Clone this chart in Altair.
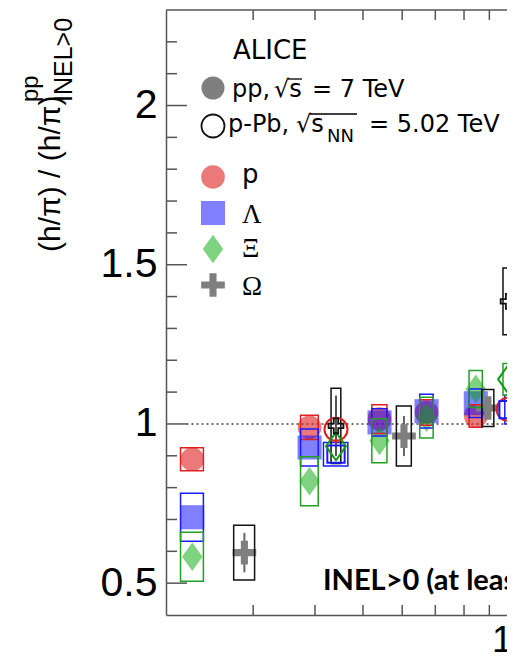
import altair as alt
import pandas as pd

# ---------------- data ----------------
# pp 7 TeV multiplicity classes: <dNch/deta> and its box half-width
pp_dndeta = [2.26, 3.90, 5.40, 6.72, 8.45]
pp_dndeta_sys = [0.12, 0.16, 0.19, 0.21, 0.26]
p_pp = [0.889, 0.989, 1.015, 1.036, 1.025]
p_pp_sys = [0.036, 0.038, 0.045, 0.040, 0.035]
lam_pp = [0.707, 0.926, 1.005, 1.040, 1.065]
lam_pp_sys = [0.075, 0.058, 0.043, 0.053, 0.045]
xi_pp = [0.583, 0.820, 0.947, 1.020, 1.110]
xi_pp_sys = [0.077, 0.077, 0.069, 0.064, 0.058]

om_pp_dndeta = [2.88, 6.05, 8.94]
om_pp_dndeta_sys = [0.14, 0.21, 0.25]
om_pp = [0.596, 0.962, 1.050]
om_pp_sys = [0.086, 0.094, 0.058]
om_pp_stat = [0.062, 0.063, 0.030]

# p-Pb 5.02 TeV
ppb_dndeta = [4.41, 9.82]
ppb_dndeta_sys = [0.10, 0.23]
p_ppb = [0.983, 1.046]
lam_ppb = [0.905, 1.045]
lam_ppb_sys = [0.037, 0.045]
lam_ppb_dndeta_sys = [0.25, 0.15]
xi_ppb = [0.930, 1.140]
xi_ppb_sys = [None, 0.050]
om_ppb = [0.994, 1.385]
om_ppb_sys = [0.118, 0.105]
om_ppb_stat = [0.095, 0.060]

# axis ticks
y_major = [0.5, 1.0, 1.5, 2.0]
y_minor = [0.6, 0.7, 0.8, 0.9, 1.1, 1.2, 1.3, 1.4, 1.6, 1.7, 1.8, 1.9, 2.1, 2.2]
x_minor = [3, 4, 5, 6, 7, 8, 9]
x_major = [10]
unity = [1.0]

# ---------------- styling ----------------
FONT = "Liberation Sans"
LEG = "DejaVu Sans"
SERIF = "Liberation Serif"
AX = "#555555"
RED, RED_FILL = "#e02020", "rgba(224,32,32,0.6)"
BLUE, BLUE_FILL = "#1a1aff", "rgba(0,0,255,0.5)"
GREEN, GREEN_FILL = "#22a022", "rgba(0,165,0,0.5)"
BLACK, GRAY_FILL = "#111111", "#7f7f7f"
DIAMOND = "M0,-1.4L1,0L0,1.4L-1,0Z"
CROSS = ("M-1,-0.3L-0.3,-0.3L-0.3,-1L0.3,-1L0.3,-0.3L1,-0.3L1,0.3L0.3,0.3"
         "L0.3,1L-0.3,1L-0.3,0.3L-1,0.3Z")

W, H = 341, 605
xs = alt.Scale(type="log", domain=[2, 10], range=[0, 346])
ys = alt.Scale(domain=[0.4, 2.3], nice=False, zero=False)
xaxis = alt.Axis(values=x_major, format="d", ticks=False, grid=False,
                 domainColor=AX, domainWidth=1.5, labelFontSize=37,
                 labelFont=FONT, labelColor="black", labelPadding=7,
                 title=None, labelFlush=False, labelOverlap=False)
yaxis = alt.Axis(values=y_major, format="~g", ticks=False, grid=False,
                 domainColor=AX, domainWidth=1.5, labelFontSize=41,
                 labelFont=FONT, labelColor="black", labelPadding=9,
                 title=None, labelFlush=False, labelOverlap=False)


def X(f):
    return alt.X(f, type="quantitative", scale=xs, axis=xaxis)


def X2(f):
    return alt.X2(f)


def Y(f):
    return alt.Y(f, type="quantitative", scale=ys, axis=yaxis)


def frame(x, dx, y, sys=None, stat=None):
    d = pd.DataFrame({"x": x, "dx": dx, "y": y})
    if sys is not None:
        s = pd.Series(sys, dtype="float")
        d["ylo"] = d["y"] - s
        d["yhi"] = d["y"] + s
    if stat is not None:
        s = pd.Series(stat, dtype="float")
        d["slo"] = d["y"] - s
        d["shi"] = d["y"] + s
    d["xlo"] = d["x"] - d["dx"]
    d["xhi"] = d["x"] + d["dx"]
    return d


def markers(d, shape, size, color, filled, sw=2.0):
    return alt.Chart(d).mark_point(shape=shape, size=size, filled=filled,
                                   color=color, opacity=1, strokeWidth=sw,
                                   clip=True).encode(x=X("x"), y=Y("y"))


def boxes(d, color):
    return alt.Chart(d).mark_rect(filled=False, fill=None, stroke=color,
                                  strokeWidth=1.5, clip=True).encode(
        x=X("xlo"), x2=X2("xhi"), y=Y("ylo"), y2=alt.Y2("yhi"))


def statbars(d, color):
    return alt.Chart(d).mark_rule(color=color, strokeWidth=2, clip=True).encode(
        x=X("x"), y=Y("slo"), y2=alt.Y2("shi"))


p_pp_d = frame(pp_dndeta, pp_dndeta_sys, p_pp, p_pp_sys)
lam_pp_d = frame(pp_dndeta, pp_dndeta_sys, lam_pp, lam_pp_sys)
xi_pp_d = frame(pp_dndeta, pp_dndeta_sys, xi_pp, xi_pp_sys)
om_pp_d = frame(om_pp_dndeta, om_pp_dndeta_sys, om_pp, om_pp_sys, om_pp_stat)
p_ppb_d = frame(ppb_dndeta, ppb_dndeta_sys, p_ppb)
lam_ppb_d = frame(ppb_dndeta, lam_ppb_dndeta_sys, lam_ppb, lam_ppb_sys)
xi_ppb_d = frame(ppb_dndeta, ppb_dndeta_sys, xi_ppb, xi_ppb_sys)
om_ppb_d = frame(ppb_dndeta, ppb_dndeta_sys, om_ppb, om_ppb_sys, om_ppb_stat)

layers = []
# dotted unity line
layers.append(alt.Chart(pd.DataFrame({"y": unity, "x": [2.2], "x2": [20]}))
              .mark_rule(color="#444444", strokeDash=[2, 3], strokeWidth=1.5, clip=True)
              .encode(x=X("x"), x2=X2("x2"), y=Y("y")))
# pp filled markers
layers += [
    markers(p_pp_d, "circle", 560, RED_FILL, True),
    markers(lam_pp_d, "square", 580, BLUE_FILL, True),
    markers(xi_pp_d, DIAMOND, 420, GREEN_FILL, True),
    statbars(om_pp_d, "#666666"),
    markers(om_pp_d, CROSS, 560, GRAY_FILL, True),
]
# systematic boxes
layers += [
    boxes(p_pp_d, RED), boxes(lam_pp_d, BLUE), boxes(xi_pp_d, GREEN),
    boxes(om_pp_d, BLACK),
    boxes(lam_ppb_d, BLUE), boxes(xi_ppb_d, GREEN), boxes(om_ppb_d, BLACK),
]
# p-Pb open markers
layers += [
    statbars(om_ppb_d, "#555555"),
    markers(p_ppb_d, "circle", 529, RED, False),
    markers(lam_ppb_d, "square", 300, BLUE, False),
    markers(xi_ppb_d, DIAMOND, 400, "#119911", False),
    markers(om_ppb_d, CROSS, 220, BLACK, False, 1.8),
]
# inward ticks
tick_style = dict(color=AX, strokeWidth=1.5)
layers += [
    alt.Chart(pd.DataFrame({"v": y_major})).mark_rule(**tick_style).encode(
        y=Y("v"), x=alt.value(0), x2=alt.value(21)),
    alt.Chart(pd.DataFrame({"v": y_minor})).mark_rule(**tick_style).encode(
        y=Y("v"), x=alt.value(0), x2=alt.value(11)),
    alt.Chart(pd.DataFrame({"v": x_minor})).mark_rule(**tick_style).encode(
        x=X("v"), y=alt.value(0), y2=alt.value(10)),
    alt.Chart(pd.DataFrame({"v": x_major})).mark_rule(**tick_style).encode(
        x=X("v"), y=alt.value(0), y2=alt.value(21)),
    alt.Chart(pd.DataFrame({"v": x_minor})).mark_rule(**tick_style).encode(
        x=X("v"), y=alt.value(H), y2=alt.value(H - 10)),
    alt.Chart(pd.DataFrame({"v": x_major})).mark_rule(**tick_style).encode(
        x=X("v"), y=alt.value(H), y2=alt.value(H - 21)),
]
one = pd.DataFrame({"k": [0]})
# top frame line
layers.append(alt.Chart(one).mark_rule(color=AX, strokeWidth=1.5).encode(
    x=alt.value(0), x2=alt.value(360), y=alt.value(0)))


def txt(s, x, y, size, font=LEG, weight="normal", angle=0, align="left", baseline="alphabetic"):
    return alt.Chart(one).mark_text(text=s, font=font, fontSize=size, fontWeight=weight,
                                    angle=angle, align=align, baseline=baseline,
                                    color="black").encode(x=alt.value(x), y=alt.value(y))


def sym(shape, size, color, filled, x, y, sw=1.8):
    return alt.Chart(one).mark_point(shape=shape, size=size, filled=filled, color=color,
                                     opacity=1, strokeWidth=sw).encode(
        x=alt.value(x), y=alt.value(y))


# legend
layers += [
    txt("ALICE", 67, 49, 26),
    sym("circle", 529, GRAY_FILL, True, 47, 78),
    txt("pp,", 66, 87, 24),
    txt("√s", 108, 87, 24),
    txt("= 7 TeV", 146, 87, 24),
    sym("circle", 529, BLACK, False, 47, 116),
    txt("p-Pb,", 62, 122, 24),
    txt("√s", 130, 122, 24),
    txt("NN", 161, 132, 18),
    txt("= 5.02 TeV", 203, 122, 24),
    sym("circle", 560, RED_FILL, True, 47, 167),
    txt("p", 76, 173, 26),
    sym("square", 580, BLUE_FILL, True, 47, 203),
    txt("Λ", 76, 213, 27, font=SERIF),
    sym(DIAMOND, 420, GREEN_FILL, True, 47, 239),
    txt("Ξ", 76, 247, 27, font=SERIF),
    sym(CROSS, 560, GRAY_FILL, True, 47, 275),
    txt("Ω", 76, 285, 27, font=SERIF),
]
# overlines of the square roots
for x0, x1, y0 in [(122, 136, 69), (144, 191, 104)]:
    layers.append(alt.Chart(one).mark_rule(color="black", strokeWidth=1.3).encode(
        x=alt.value(x0), x2=alt.value(x1), y=alt.value(y0)))

# event-class label
layers.append(txt("INEL>0 (at least", 157, 580, 29, font="Lato", weight="bold"))

# y-axis title with super/subscripts
layers += [
    txt("(h/π) / (h/π)", -106, 242, 30, font=FONT, angle=270),
    txt("pp", -128, 92, 24, font=FONT, angle=270),
    txt("INEL>0", -94, 92, 25, font=FONT, angle=270),
]

chart = alt.layer(*layers).properties(
    width=W, height=H,
    autosize=alt.AutoSizeParams(type="none"),
    padding={"left": 158, "top": 2, "right": 0, "bottom": 42},
).configure_view(stroke=None)

chart.save("out.html", embed_options={"renderer": "svg", "actions": False})
